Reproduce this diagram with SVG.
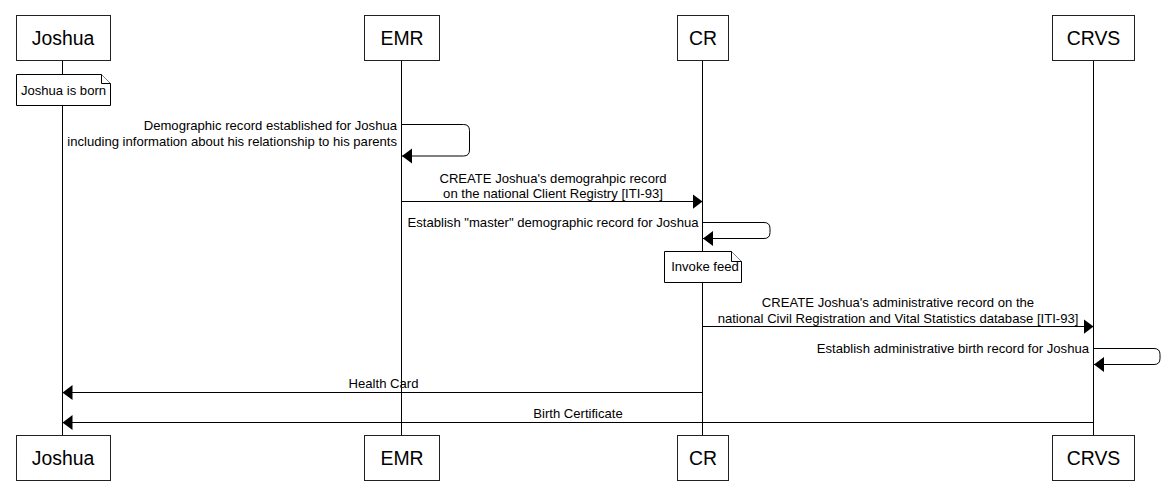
<svg xmlns="http://www.w3.org/2000/svg" width="1170" height="504" viewBox="0 0 1170 504">
<defs>
<style>
.box{fill:#fff;stroke:#222;stroke-width:1}
.life{stroke:#000;stroke-width:1;fill:none}
.pl{font-family:"Liberation Sans",Arial,sans-serif;font-size:19.4px;fill:#000;text-anchor:middle}
.t{font-family:"Liberation Sans",Arial,sans-serif;font-size:13.1px;fill:#000}
.m{text-anchor:middle}
.r{text-anchor:end}
.msg{stroke:#000;stroke-width:1;fill:none}
.note{fill:#fff;stroke:#000;stroke-width:1}
</style>
<marker id="ah" viewBox="0 0 10 16" refX="10" refY="8" markerWidth="10" markerHeight="16" markerUnits="userSpaceOnUse" orient="auto">
<path d="M0,0.5 L10,8 L0,15.5 Z" fill="#000"/>
</marker>
</defs>
<rect width="1170" height="504" fill="#fff"/>
<g id="lifelines">
<line class="life" x1="62.5" y1="61" x2="62.5" y2="435"/>
<line class="life" x1="401.5" y1="61" x2="401.5" y2="435"/>
<line class="life" x1="702.5" y1="61" x2="702.5" y2="435"/>
<line class="life" x1="1093.5" y1="61" x2="1093.5" y2="435"/>
</g>
<g id="Joshua">
<rect class="box" x="16.5" y="15.5" width="94" height="45"/>
<text class="pl" x="63" y="45">Joshua</text>
<rect class="box" x="16.5" y="435.5" width="94" height="45"/>
<text class="pl" x="63" y="465">Joshua</text>
</g>
<g id="EMR">
<rect class="box" x="364.5" y="15.5" width="75" height="45"/>
<text class="pl" x="402" y="45">EMR</text>
<rect class="box" x="364.5" y="435.5" width="75" height="45"/>
<text class="pl" x="402" y="465">EMR</text>
</g>
<g id="CR">
<rect class="box" x="677.5" y="15.5" width="51" height="45"/>
<text class="pl" x="703" y="45">CR</text>
<rect class="box" x="677.5" y="435.5" width="51" height="45"/>
<text class="pl" x="703" y="465">CR</text>
</g>
<g id="CRVS">
<rect class="box" x="1052.5" y="15.5" width="82" height="45"/>
<text class="pl" x="1093.5" y="45">CRVS</text>
<rect class="box" x="1052.5" y="435.5" width="82" height="45"/>
<text class="pl" x="1093.5" y="465">CRVS</text>
</g>
<g id="note-born">
<path class="note" d="M16.5,74.5 H101.5 L110.5,83.5 V105.5 H16.5 Z"/>
<path class="note" d="M101.5,74.5 V83.5 H110.5" fill="none"/>
<text class="t m" x="63.5" y="94.5">Joshua is born</text>
</g>
<g id="note-feed">
<path class="note" d="M664.5,251.5 H731.5 L741.5,261.5 V282.5 H664.5 Z"/>
<path class="note" d="M731.5,251.5 V261.5 H741.5" fill="none"/>
<text class="t m" x="705" y="270.5">Invoke feed</text>
</g>
<g id="connectors">
<path class="msg" d="M401.5,124.5 H463.5 Q469.5,124.5 469.5,130.5 V150 Q469.5,156 463.5,156 H402" marker-end="url(#ah)"/>
<text class="t r" x="397" y="130">Demographic record established for Joshua</text>
<text class="t r" x="397" y="145.5">including information about his relationship to his parents</text>

<line class="msg" x1="401.5" y1="201.5" x2="702.5" y2="201.5" marker-end="url(#ah)"/>
<text class="t m" x="553" y="182.5">CREATE Joshua's demograhpic record</text>
<text class="t m" x="553" y="198">on the national Client Registry [ITI-93]</text>

<path class="msg" d="M702.5,222.5 H764 Q770,222.5 770,228.5 V232.5 Q770,238.5 764,238.5 H703" marker-end="url(#ah)"/>
<text class="t r" x="698.5" y="227">Establish "master" demographic record for Joshua</text>

<line class="msg" x1="702.5" y1="326.5" x2="1093.5" y2="326.5" marker-end="url(#ah)"/>
<text class="t m" x="898" y="307">CREATE Joshua's administrative record on the</text>
<text class="t m" x="898" y="322.5">national Civil Registration and Vital Statistics database [ITI-93]</text>

<path class="msg" d="M1093.5,348.5 H1154 Q1160,348.5 1160,354.5 V358.5 Q1160,364.5 1154,364.5 H1094" marker-end="url(#ah)"/>
<text class="t r" x="1089" y="353">Establish administrative birth record for Joshua</text>

<line class="msg" x1="702.5" y1="392.5" x2="62.5" y2="392.5" marker-end="url(#ah)"/>
<text class="t m" x="383.5" y="388">Health Card</text>

<line class="msg" x1="1093.5" y1="422.5" x2="62.5" y2="422.5" marker-end="url(#ah)"/>
<text class="t m" x="578" y="418">Birth Certificate</text>
</g>
</svg>
